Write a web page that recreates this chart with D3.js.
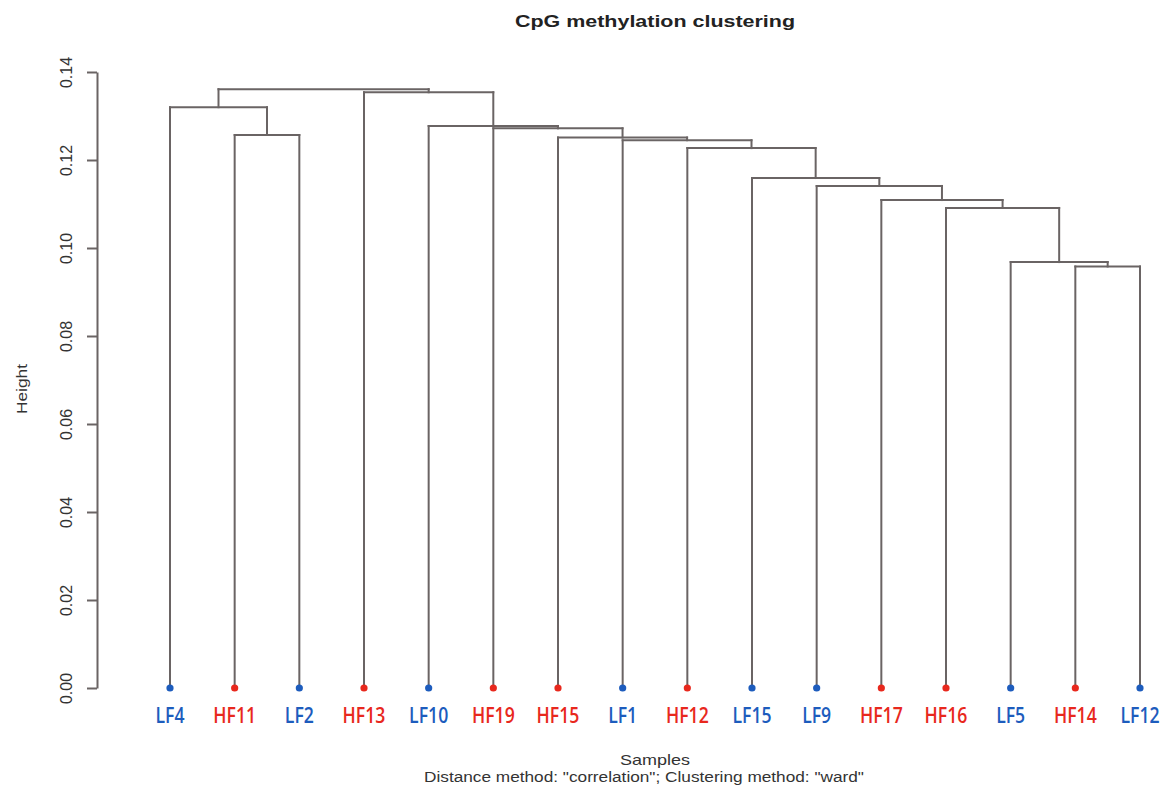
<!DOCTYPE html>
<html>
<head>
<meta charset="utf-8">
<script src="https://cdn.jsdelivr.net/npm/d3@7"></script>
<style>
  html, body { margin: 0; padding: 0; background: #fff; }
  svg { display: block; }
</style>
</head>
<body>
<svg id="chart" width="1166" height="794"></svg>
<script>
// ---- data ----
const leaves = ["LF4","HF11","LF2","HF13","LF10","HF19","HF15","LF1","HF12","LF15","LF9","HF17","HF16","LF5","HF14","LF12"];
const leafGroup = ["LF","HF","LF","HF","LF","HF","HF","LF","HF","LF","LF","HF","HF","LF","HF","LF"];
// hclust-style merge table: negative = leaf (1-based position), positive = earlier merge step
const mergeA = [-15,-14,-13,-12,-11,-10,-9,-8,-7,-2,-6,-5,-1,-4,13];
const mergeB = [-16,  1,  2,  3,  4,  5, 6, 7, 8,-3, 9,11,10,12,14];
const mergeHeight = [0.0958,0.0968,0.1091,0.1109,0.1141,0.1159,0.1227,0.1245,0.1251,0.1257,0.1272,0.1277,0.1320,0.1354,0.1361];
const yTicks = [0,0.02,0.04,0.06,0.08,0.10,0.12,0.14];
const titleText = "CpG methylation clustering";
const xTitle = "Samples";
const subTitle = "Distance method: \"correlation\"; Clustering method: \"ward\"";
const yTitle = "Height";

// ---- layout ----
const svg = d3.select("#chart");
const x = d3.scalePoint().domain(leaves).range([170, 1140]);
const y = d3.scaleLinear().domain([0, 0.14]).range([688, 72]);
const color = d3.scaleOrdinal().domain(["LF","HF"]).range(["#1d5cbd","#e8281d"]);
const lineColor = "#6a6464";

// compute node positions
const nodes = [];
function pos(ref) {
  if (ref < 0) { const name = leaves[-ref - 1]; return {x: x(name), h: 0}; }
  return nodes[ref - 1];
}
const segs = [];
mergeA.forEach((a, i) => {
  const A = pos(a), B = pos(mergeB[i]), h = mergeHeight[i];
  nodes.push({x: (A.x + B.x) / 2, h: h});
  segs.push({x1: A.x, y1: A.h, x2: A.x, y2: h});
  segs.push({x1: A.x, y1: h, x2: B.x, y2: h});
  segs.push({x1: B.x, y1: h, x2: B.x, y2: B.h});
});

const g = svg.append("g");
g.selectAll("line.seg").data(segs).join("line")
  .attr("class", "seg")
  .attr("x1", d => d.x1).attr("x2", d => d.x2)
  .attr("y1", d => y(d.y1)).attr("y2", d => y(d.y2))
  .attr("stroke", lineColor).attr("stroke-width", 2)
  .attr("stroke-linecap", "square");

// leaf dots
g.selectAll("circle.leaf").data(leaves).join("circle")
  .attr("class", "leaf")
  .attr("cx", d => x(d)).attr("cy", y(0)).attr("r", 3.6)
  .attr("fill", (d, i) => color(leafGroup[i]));

// leaf labels
g.selectAll("text.leaf").data(leaves).join("text")
  .attr("class", "leaf")
  .attr("transform", d => `translate(${x(d)},${723}) scale(0.84,1)`)
  .attr("text-anchor", "middle")
  .attr("font-family", "'Open Sans', sans-serif")
  .attr("font-weight", 600)
  .attr("font-size", 21)
  .attr("fill", (d, i) => color(leafGroup[i]))
  .text(d => d);

// y axis
const axis = d3.axisLeft(y).tickValues(yTicks).tickFormat(d3.format(".2f")).tickSize(10).tickSizeOuter(0);
const ax = svg.append("g").attr("transform", "translate(97,0)").call(axis);
ax.select(".domain").attr("stroke", lineColor).attr("stroke-width", 2);
ax.selectAll(".tick line").attr("stroke", lineColor).attr("stroke-width", 2);
ax.selectAll(".tick text")
  .attr("x", null).attr("dy", null).attr("y", null)
  .attr("transform", "translate(-25,0) rotate(-90)")
  .attr("text-anchor", "middle")
  .attr("font-family", "'Liberation Sans', Arial, sans-serif")
  .attr("font-size", 16)
  .attr("fill", "#333");

// titles
svg.append("text").attr("x", 655).attr("y", 27).attr("text-anchor", "middle")
  .attr("font-family", "'Liberation Sans', Arial, sans-serif").attr("font-weight", "bold")
  .attr("font-size", 17).attr("fill", "#222")
  .attr("textLength", 280).attr("lengthAdjust", "spacingAndGlyphs")
  .text(titleText);
svg.append("text").attr("x", 655).attr("y", 765).attr("text-anchor", "middle")
  .attr("font-family", "'Liberation Sans', Arial, sans-serif")
  .attr("font-size", 15).attr("fill", "#333")
  .attr("textLength", 70).attr("lengthAdjust", "spacingAndGlyphs")
  .text(xTitle);
svg.append("text").attr("x", 644).attr("y", 782).attr("text-anchor", "middle")
  .attr("font-family", "'Liberation Sans', Arial, sans-serif")
  .attr("font-size", 14).attr("fill", "#333")
  .attr("textLength", 440).attr("lengthAdjust", "spacingAndGlyphs")
  .text(subTitle);
svg.append("text").attr("transform", "translate(27,389) rotate(-90)").attr("text-anchor", "middle")
  .attr("font-family", "'Liberation Sans', Arial, sans-serif")
  .attr("font-size", 15).attr("fill", "#333")
  .attr("textLength", 50).attr("lengthAdjust", "spacingAndGlyphs")
  .text(yTitle);
</script>
</body>
</html>
